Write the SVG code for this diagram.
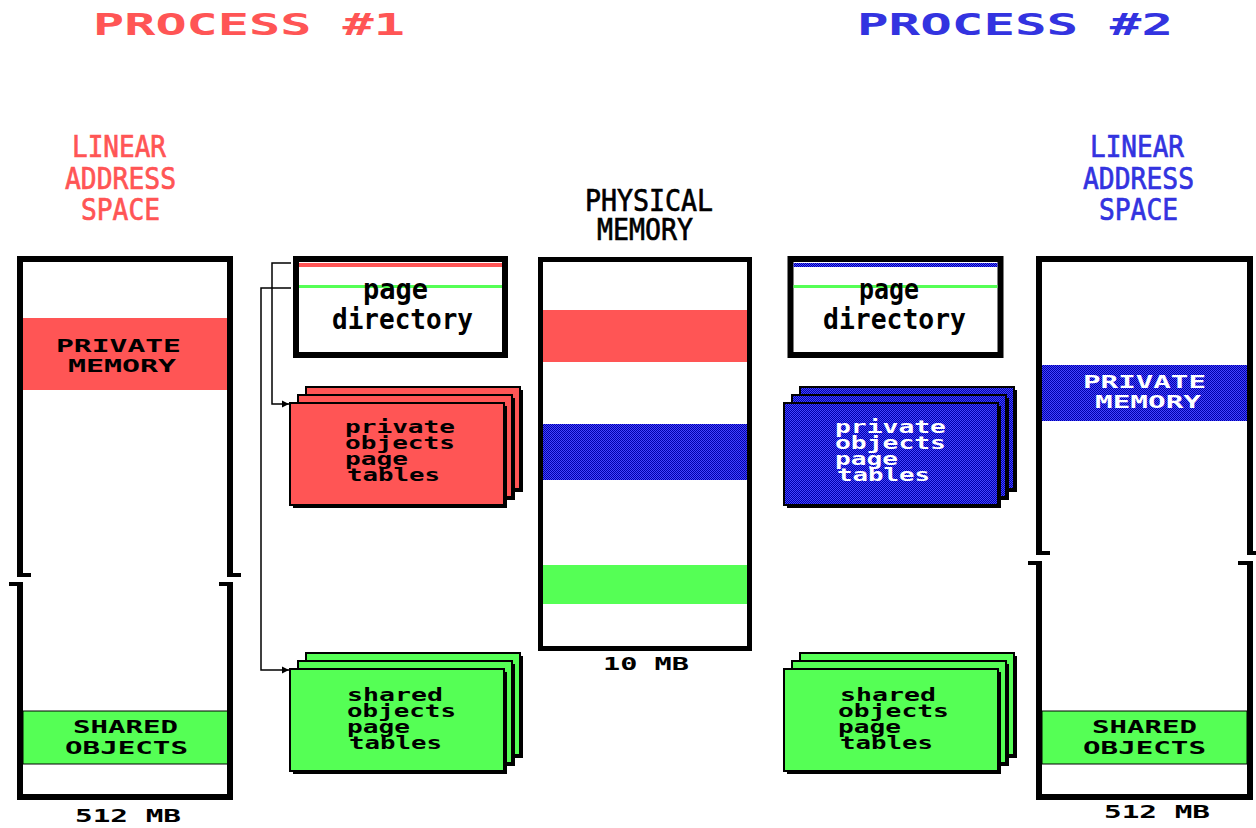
<svg xmlns="http://www.w3.org/2000/svg" width="1256" height="828" viewBox="0 0 1256 828">
<style>
  .t { font-family: "DejaVu Sans Mono", "Liberation Mono", monospace; font-weight: bold; }
  .tn { font-family: "DejaVu Sans Mono", "Liberation Mono", monospace; font-weight: normal; stroke-width: 0.7; }
  .red { fill: #ff5555; }
  .tn.red { stroke: #ff5555; }
  .blu { fill: #3333e0; }
  .tn.blu { stroke: #3333e0; }
  .blk { fill: #000; }
  .tn.blk { stroke: #000; }
  .wht { fill: #fff; }
  .frame { fill: none; stroke: #000; stroke-width: 6; }
  .card { stroke: #000; stroke-width: 2; }
  .conn { fill: none; stroke: #000; stroke-width: 1.5; }
</style>
<defs>
  <pattern id="hatch" width="2" height="2" patternUnits="userSpaceOnUse">
    <rect width="2" height="2" fill="#4444ff"/>
    <rect width="1" height="1" fill="#0000aa"/>
    <rect x="1" y="1" width="1" height="1" fill="#0000aa"/>
  </pattern>
  <marker id="arr" markerWidth="8" markerHeight="8" refX="7" refY="4" orient="auto" markerUnits="userSpaceOnUse">
    <path d="M0,0.5 L7,4 L0,7.5 Z" fill="#000"/>
  </marker>
  <g id="stackShape">
    <rect x="19" y="3" width="214" height="102" fill="#000"/>
    <rect x="16" y="0" width="214" height="102" class="card"/>
    <rect x="11" y="11" width="214" height="102" fill="#000"/>
    <rect x="8" y="8" width="214" height="102" class="card"/>
    <rect x="3" y="19" width="214" height="102" fill="#000"/>
    <rect x="0" y="16" width="214" height="102" class="card"/>
  </g>
</defs>
<rect width="1256" height="828" fill="#fff"/>

<!-- Titles -->
<g id="title1"><text class="t red" x="93" y="35" font-size="30" textLength="312" lengthAdjust="spacingAndGlyphs">PROCESS #1</text></g>
<g id="title2"><text class="t blu" x="857" y="35" font-size="30" textLength="316" lengthAdjust="spacingAndGlyphs">PROCESS #2</text></g>

<!-- Left linear address space -->
<g id="las1">
  <text class="tn red" x="72" y="157" font-size="30" textLength="94" lengthAdjust="spacingAndGlyphs">LINEAR</text>
  <text class="tn red" x="65" y="189" font-size="30" textLength="111" lengthAdjust="spacingAndGlyphs">ADDRESS</text>
  <text class="tn red" x="81" y="220" font-size="30" textLength="79" lengthAdjust="spacingAndGlyphs">SPACE</text>
  <rect x="23" y="318" width="205" height="72" fill="#ff5555"/>
  <text class="t blk" x="56" y="352" font-size="17" textLength="125" lengthAdjust="spacingAndGlyphs">PRIVATE</text>
  <text class="t blk" x="68" y="372" font-size="17" textLength="108" lengthAdjust="spacingAndGlyphs">MEMORY</text>
  <rect x="23" y="711" width="205" height="53" fill="#55ff55" stroke="#000" stroke-width="1"/>
  <text class="t blk" x="73" y="733" font-size="17" textLength="105" lengthAdjust="spacingAndGlyphs">SHARED</text>
  <text class="t blk" x="65" y="754" font-size="17" textLength="123" lengthAdjust="spacingAndGlyphs">OBJECTS</text>
  <path class="frame" d="M20,576 V259 H230 V576"/>
  <path class="frame" d="M20,583 V797 H230 V583"/>
  <rect x="17" y="573" width="14" height="4" fill="#000"/>
  <rect x="227" y="573" width="14" height="4" fill="#000"/>
  <rect x="9" y="582" width="14" height="4" fill="#000"/>
  <rect x="219" y="582" width="14" height="4" fill="#000"/>
  <text class="t blk" x="75" y="822" font-size="17" textLength="106" lengthAdjust="spacingAndGlyphs">512 MB</text>
</g>

<!-- Left page directory -->
<g id="pd1">
  <rect x="296" y="259" width="209" height="96" fill="#fff" stroke="#000" stroke-width="6"/>
  <rect x="299" y="263" width="203" height="4" fill="#ff5555"/>
  <rect x="299" y="285" width="203" height="3" fill="#55ff55"/>
  <text class="t blk" x="363" y="299" font-size="28" textLength="65" lengthAdjust="spacingAndGlyphs">page</text>
  <text class="t blk" x="332" y="329" font-size="28" textLength="141" lengthAdjust="spacingAndGlyphs">directory</text>
</g>

<!-- Left private page tables -->
<g id="ppt1">
  <use href="#stackShape" x="290" y="387" fill="#ff5555"/>
  <g class="t blk" font-size="17.5">
    <text x="345" y="433" textLength="110" lengthAdjust="spacingAndGlyphs">private</text>
    <text x="345" y="449" textLength="110" lengthAdjust="spacingAndGlyphs">objects</text>
    <text x="345" y="465" textLength="63" lengthAdjust="spacingAndGlyphs">page</text>
    <text x="347" y="481" textLength="93" lengthAdjust="spacingAndGlyphs">tables</text>
  </g>
</g>

<!-- Left shared page tables -->
<g id="spt1">
  <use href="#stackShape" x="290" y="653" fill="#55ff55"/>
  <g class="t blk" font-size="17.5">
    <text x="347" y="701" textLength="96" lengthAdjust="spacingAndGlyphs">shared</text>
    <text x="347" y="717" textLength="109" lengthAdjust="spacingAndGlyphs">objects</text>
    <text x="347" y="733" textLength="63" lengthAdjust="spacingAndGlyphs">page</text>
    <text x="349" y="749" textLength="93" lengthAdjust="spacingAndGlyphs">tables</text>
  </g>
</g>

<!-- Physical memory -->
<g id="phys">
  <text class="tn blk" x="585" y="211" font-size="31" textLength="128" lengthAdjust="spacingAndGlyphs">PHYSICAL</text>
  <text class="tn blk" x="597" y="240" font-size="31" textLength="96" lengthAdjust="spacingAndGlyphs">MEMORY</text>
  <rect x="543" y="310" width="205" height="52" fill="#ff5555"/>
  <rect x="541" y="424" width="209" height="56" fill="url(#hatch)"/>
  <rect x="543" y="565" width="205" height="39" fill="#55ff55"/>
  <rect x="540.5" y="259.5" width="209" height="389" fill="none" stroke="#000" stroke-width="5"/>
  <text class="t blk" x="603" y="670" font-size="17" textLength="86" lengthAdjust="spacingAndGlyphs">10 MB</text>
</g>

<!-- Right page directory -->
<g id="pd2">
  <rect x="790.5" y="259" width="210" height="96" fill="#fff" stroke="#000" stroke-width="6"/>
  <rect x="793.5" y="263" width="204" height="4" fill="url(#hatch)"/>
  <rect x="793.5" y="285" width="204" height="3" fill="#55ff55"/>
  <text class="t blk" x="859" y="299" font-size="28" textLength="60" lengthAdjust="spacingAndGlyphs">page</text>
  <text class="t blk" x="823" y="329" font-size="28" textLength="143" lengthAdjust="spacingAndGlyphs">directory</text>
</g>

<!-- Right private page tables -->
<g id="ppt2">
  <use href="#stackShape" x="784" y="387" fill="url(#hatch)"/>
  <g class="t wht" font-size="17.5">
    <text x="835" y="433" textLength="111" lengthAdjust="spacingAndGlyphs">private</text>
    <text x="835" y="449" textLength="111" lengthAdjust="spacingAndGlyphs">objects</text>
    <text x="835" y="465" textLength="63" lengthAdjust="spacingAndGlyphs">page</text>
    <text x="837" y="481" textLength="93" lengthAdjust="spacingAndGlyphs">tables</text>
  </g>
</g>

<!-- Right shared page tables -->
<g id="spt2">
  <use href="#stackShape" x="784" y="653" fill="#55ff55"/>
  <g class="t blk" font-size="17.5">
    <text x="840" y="701" textLength="96" lengthAdjust="spacingAndGlyphs">shared</text>
    <text x="838" y="717" textLength="111" lengthAdjust="spacingAndGlyphs">objects</text>
    <text x="838" y="733" textLength="63" lengthAdjust="spacingAndGlyphs">page</text>
    <text x="840" y="749" textLength="93" lengthAdjust="spacingAndGlyphs">tables</text>
  </g>
</g>

<!-- Right linear address space -->
<g id="las2">
  <text class="tn blu" x="1090" y="157" font-size="30" textLength="94" lengthAdjust="spacingAndGlyphs">LINEAR</text>
  <text class="tn blu" x="1083" y="189" font-size="30" textLength="111" lengthAdjust="spacingAndGlyphs">ADDRESS</text>
  <text class="tn blu" x="1099" y="220" font-size="30" textLength="79" lengthAdjust="spacingAndGlyphs">SPACE</text>
  <rect x="1042" y="365" width="205" height="56" fill="url(#hatch)"/>
  <text class="t wht" x="1083" y="388" font-size="17" textLength="123" lengthAdjust="spacingAndGlyphs">PRIVATE</text>
  <text class="t wht" x="1095" y="408" font-size="17" textLength="106" lengthAdjust="spacingAndGlyphs">MEMORY</text>
  <rect x="1042" y="711" width="205" height="53" fill="#55ff55" stroke="#000" stroke-width="1"/>
  <text class="t blk" x="1092" y="733" font-size="17" textLength="105" lengthAdjust="spacingAndGlyphs">SHARED</text>
  <text class="t blk" x="1083" y="754" font-size="17" textLength="123" lengthAdjust="spacingAndGlyphs">OBJECTS</text>
  <path class="frame" d="M1039,555 V259 H1250 V555"/>
  <path class="frame" d="M1039,561 V797 H1250 V561"/>
  <rect x="1036" y="551" width="14" height="4" fill="#000"/>
  <rect x="1247" y="551" width="14" height="4" fill="#000"/>
  <rect x="1028" y="561" width="14" height="4" fill="#000"/>
  <rect x="1238" y="561" width="14" height="4" fill="#000"/>
  <text class="t blk" x="1104" y="818" font-size="17" textLength="106" lengthAdjust="spacingAndGlyphs">512 MB</text>
</g>

<!-- Connectors -->
<g id="connectors">
  <path class="conn" d="M291,263 H272 V404 H289" marker-end="url(#arr)"/>
  <path class="conn" d="M291,288 H261 V670 H289" marker-end="url(#arr)"/>
</g>
</svg>
